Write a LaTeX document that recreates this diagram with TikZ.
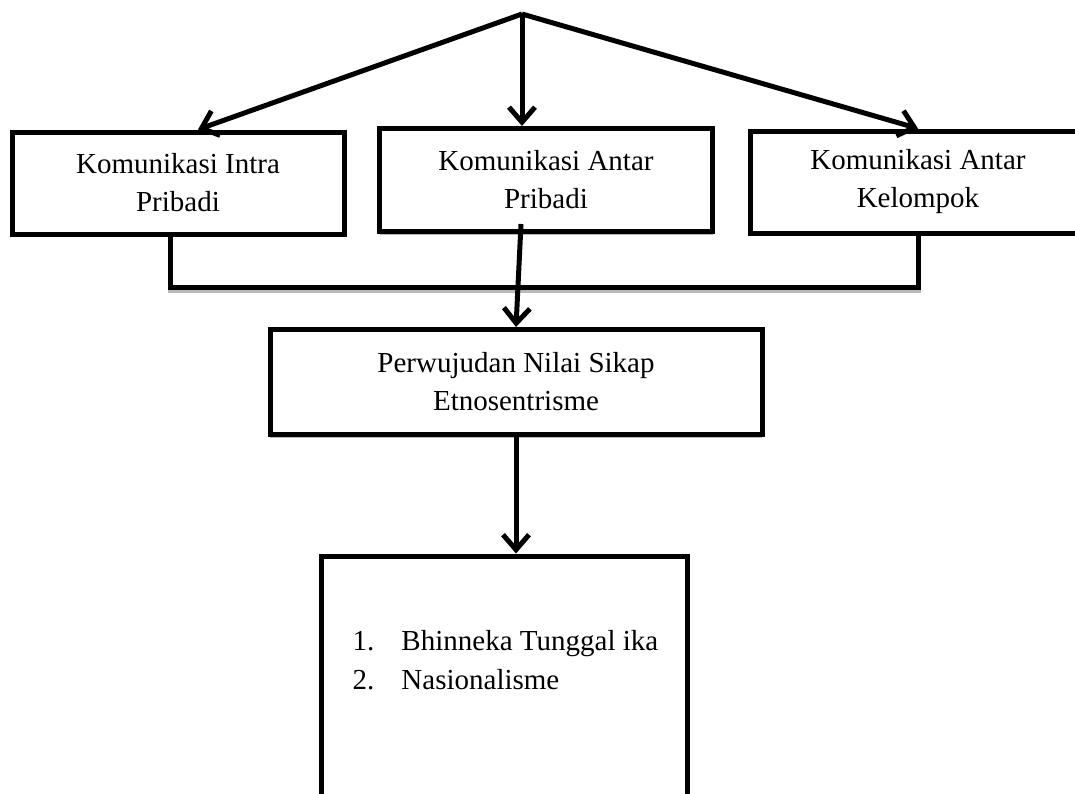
\documentclass[tikz,border=0pt]{standalone}
\usepackage{fontspec}
\setmainfont{Liberation Serif}
\usetikzlibrary{arrows.meta,calc,shadows}

\begin{document}
\begin{tikzpicture}[x=1pt,y=-1pt,line width=5pt,
	box/.style={draw,fill=white,align=center,inner sep=0pt,
		font=\fontsize{29}{38}\selectfont,
		drop shadow={shadow xshift=0pt,shadow yshift=-3pt,fill=gray!55,opacity=1}},
	arr/.style={-{Straight Barb[length=15pt,width=26pt]}}]
	\useasboundingbox (0,0) rectangle (1075,793);
	\clip (0,0) rectangle (1075,793);
	\node [box, minimum width=332pt, minimum height=102pt] (b1) at (178,183) {Komunikasi Intra\\Pribadi};
	\node [box, minimum width=333pt, minimum height=103pt] (b2) at (546,180) {Komunikasi Antar\\Pribadi};
	\node [box, minimum width=336pt, minimum height=102pt] (b3) at (918,182) {Komunikasi Antar\\Kelompok};
	\node [box, minimum width=492pt, minimum height=105pt] (b4) at (516,382) {Perwujudan Nilai Sikap\\Etnosentrisme};
	\node [box, minimum width=366pt, minimum height=300pt] (b5) at (504,706) {};
	\node [anchor=base west, inner sep=0pt, font=\fontsize{29}{39}\selectfont] (list) at (350,650)
		{\begin{tabular}[t]{@{}p{49pt}@{}l@{}}1.&Bhinneka Tunggal ika\\2.&Nasionalisme\end{tabular}};
	\coordinate (top) at (522,14);
	\coordinate (bar) at (0,287);
	\draw [arr] (top) -- ($(b1.north)+(20,0)$);
	\draw [arr] (top) -- ($(b2.north)+(-24,0)$);
	\draw [arr] (top) -- (b3.north);
	\begin{scope}[transform canvas={yshift=-3pt}]
		\draw [gray!55] ($(b1.south)+(-8,0)$) |- (b3.south |- bar) -- (b3.south);
	\end{scope}
	\draw ($(b1.south)+(-8,0)$) |- (b3.south |- bar) -- (b3.south);
	\draw [arr] ($(b2.south)+(-25,-10)$) -- (b4.north);
	\draw [arr] (b4.south) -- (b4.south |- b5.north);
\end{tikzpicture}
\end{document}
